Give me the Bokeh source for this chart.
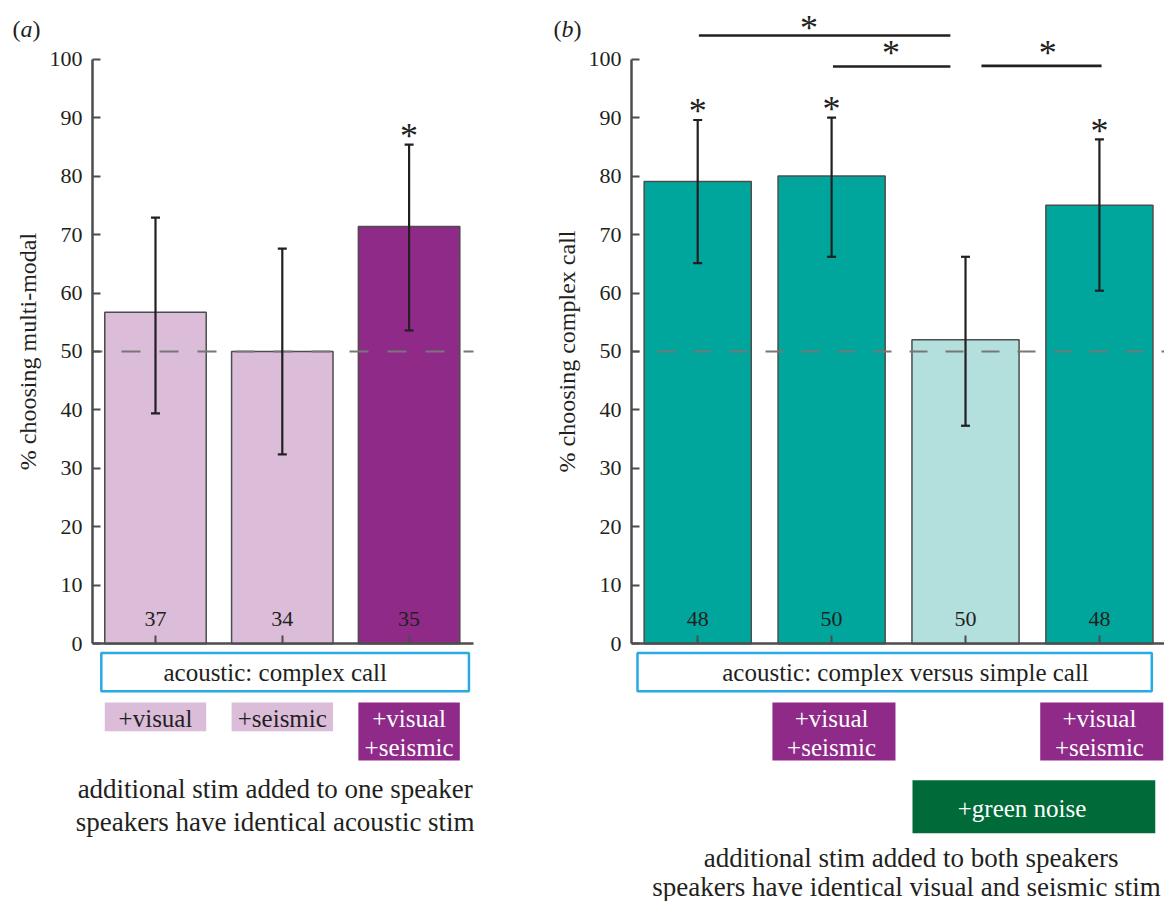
import math
from bokeh.plotting import figure
from bokeh.models import Range1d, FixedTicker, Label, Whisker, TeeHead, ColumnDataSource
from bokeh.layouts import row
from bokeh.embed import file_html
from bokeh.resources import INLINE
from bokeh.core.properties import value

# ---------------- data ----------------
a_pos = [1, 2, 3]
a_vals = [56.7, 50.0, 71.4]
a_lower = [39.4, 32.4, 53.6]
a_upper = [72.9, 67.6, 85.4]
a_n = ["37", "34", "35"]
a_sig = [False, False, True]
a_colors = ["#dbbcd9", "#dbbcd9", "#8f2a89"]
a_stim_line1 = ["+visual", "+seismic", "+visual"]
a_stim_line2 = ["", "", "+seismic"]
a_stim_colors = ["#dbbcd9", "#dbbcd9", "#8f2a89"]
a_stim_text = ["#231f20", "#231f20", "white"]

b_pos = [1, 2, 3, 4]
b_vals = [79.1, 80.0, 52.0, 75.0]
b_lower = [65.1, 66.2, 37.3, 60.4]
b_upper = [89.6, 90.0, 66.2, 86.3]
b_n = ["48", "50", "50", "48"]
b_sig = [True, True, False, True]
b_colors = ["#00a69c", "#00a69c", "#b3dfdd", "#00a69c"]
b_vs_pos = [2, 4]          # bars with +visual +seismic on both speakers
b_pairs = [(1, 3), (2, 3), (3, 4)]   # significant pairwise comparisons

y_ticks = list(range(0, 101, 10))
chance = 50

FONT = "Liberation Serif"
TXT = "#231f20"
AX = "#4d4d4d"
PURPLE = "#8f2a89"
BLUE = "#29aae2"
GREEN = "#006b38"

Y_RANGE = (-44.08, 110.04)


def make_panel(width, xr, y_axis_x, axis_end, ticks):
    p = figure(width=width, height=901, x_range=xr, y_range=Range1d(*Y_RANGE),
               output_backend="svg", toolbar_location=None,
               min_border_left=0, min_border_right=0,
               min_border_top=0, min_border_bottom=0)
    p.outline_line_color = None
    p.grid.visible = False
    p.background_fill_color = "white"
    p.border_fill_color = "white"
    ya = p.yaxis[0]
    ya.fixed_location = y_axis_x
    ya.ticker = FixedTicker(ticks=y_ticks)
    ya.bounds = (0, 100)
    ya.axis_line_color = AX
    ya.axis_line_width = 2.5
    ya.major_tick_line_color = AX
    ya.major_tick_line_width = 2
    ya.major_tick_in = 8
    ya.major_tick_out = 0
    ya.minor_tick_line_color = None
    ya.major_label_text_font = FONT
    ya.major_label_text_font_size = "22px"
    ya.major_label_text_color = TXT
    ya.major_label_standoff = 10
    xa = p.xaxis[0]
    xa.fixed_location = 0
    xa.ticker = FixedTicker(ticks=ticks)
    xa.bounds = (y_axis_x, axis_end)
    xa.axis_line_color = AX
    xa.axis_line_width = 2.5
    xa.major_tick_line_color = AX
    xa.major_tick_line_width = 2
    xa.major_tick_in = 8
    xa.major_tick_out = 0
    xa.minor_tick_line_color = None
    xa.major_label_text_alpha = 0
    xa.major_label_text_font_size = "1px"
    return p


def bars(p, pos, vals, lower, upper, colors, n, width):
    src = ColumnDataSource(dict(x=pos, top=vals, lower=lower, upper=upper,
                                color=colors, n=n))
    p.vbar(x="x", top="top", width=width, bottom=0, fill_color="color",
           line_color=AX, line_width=1.5, source=src)
    return src


def errors_and_labels(p, src, pos, upper, sig):
    p.add_layout(Whisker(base="x", upper="upper", lower="lower", source=src,
                         level="overlay",
                         line_color=TXT, line_width=2.2,
                         upper_head=TeeHead(size=9, line_color=TXT, line_width=2.2),
                         lower_head=TeeHead(size=9, line_color=TXT, line_width=2.2)))
    p.text(x="x", y=4.24, text="n", source=src, text_align="center",
           text_baseline="alphabetic", text_font=value(FONT),
           text_font_size="22px", text_color=TXT)
    sx = [x for x, s in zip(pos, sig) if s]
    sy = [u + 1.5 for u, s in zip(upper, sig) if s]
    p.text(x=sx, y=sy, text=["*"] * len(sx), text_align="center",
           text_baseline="alphabetic", text_font=value(FONT),
           text_font_size="36px", text_color=TXT)


def lab(p, x, y, text, size, color=TXT, align="center", style="normal", angle=0):
    p.add_layout(Label(x=x, y=y, text=text, text_font=FONT, text_font_size=size,
                       text_color=color, text_align=align, text_baseline="alphabetic",
                       text_font_style=style, angle=angle))


# ---------------- panel (a) ----------------
xa_range = Range1d(-0.2224, 4.0363)
AX_A = 0.5032
END_A = 3.508
pa = make_panel(540, xa_range, AX_A, END_A, a_pos)
src_a = bars(pa, a_pos, a_vals, a_lower, a_upper, a_colors, a_n, 0.8)
pa.line(x=[AX_A, END_A], y=[chance, chance], line_color="#777777",
        line_width=2, line_dash="19 19", line_dash_offset=9)
errors_and_labels(pa, src_a, a_pos, a_upper, a_sig)
lab(pa, -0.0016, 50, "% choosing multi-modal", "24px", angle=math.pi / 2)

pa.quad(left=[0.5726], right=[3.472], top=[-1.57], bottom=[-8.13],
        fill_color="white", line_color=BLUE, line_width=2.5)
lab(pa, 1.944, -4.98, "acoustic: complex call", "25px")
for x, t1, t2, fc, tc in zip(a_pos, a_stim_line1, a_stim_line2, a_stim_colors, a_stim_text):
    bottom = -19.96 if t2 else -14.95
    pa.quad(left=[x - 0.4], right=[x + 0.4], top=[-10.04], bottom=[bottom],
            fill_color=fc, line_color=None)
    lab(pa, x, -12.73, t1, "25px", tc)
    if t2:
        lab(pa, x, -17.74, t2, "25px", tc)
lab(pa, 1.944, -24.8, "additional stim added to one speaker", "27px")
lab(pa, 1.944, -30.44, "speakers have identical acoustic stim", "27px")
lab(pa, -0.1278, 105.08, "(", "24px", align="left")
lab(pa, -0.0647, 105.08, "a", "24px", align="left", style="italic")
lab(pa, 0.0300, 105.08, ")", "24px", align="left")

# ---------------- panel (b) ----------------
xb_range = Range1d(-0.174, 4.486)
AX_B = 0.5056
pb = make_panel(624, xb_range, AX_B, xb_range.end, b_pos)
src_b = bars(pb, b_pos, b_vals, b_lower, b_upper, b_colors, b_n, 0.8)
pb.line(x=[AX_B, xb_range.end], y=[chance, chance], line_color="#777777",
        line_width=2, line_dash="18 18", line_dash_offset=10)
errors_and_labels(pb, src_b, b_pos, b_upper, b_sig)
lab(pb, 0.0202, 50, "% choosing complex call", "24px", angle=math.pi / 2)

brk_x0 = [1.009, 2.01, 3.119]
brk_x1 = [2.887, 2.887, 4.016]
brk_y = [104.05, 98.75, 98.87]
brk_sx = [1.832, 2.444, 3.615]
brk_sy = [105.4, 101.1, 101.1]
pb.segment(x0=brk_x0, x1=brk_x1, y0=brk_y, y1=brk_y, line_color=TXT, line_width=2.7)
pb.text(x=brk_sx, y=brk_sy, text=["*"] * len(b_pairs), text_align="center",
        text_baseline="alphabetic", text_font=value(FONT), text_font_size="36px",
        text_color=TXT)

pb.quad(left=[0.5504], right=[4.391], top=[-1.57], bottom=[-8.13],
        fill_color="white", line_color=BLUE, line_width=2.5)
lab(pb, 2.552, -4.98, "acoustic: complex versus simple call", "25px")
for x in b_vs_pos:
    pb.quad(left=[x - 0.442], right=[x + 0.477], top=[-10.04], bottom=[-19.96],
            fill_color=PURPLE, line_color=None)
    lab(pb, x, -12.73, "+visual", "25px", "white")
    lab(pb, x, -17.74, "+seismic", "25px", "white")
pb.quad(left=[2.604], right=[4.417], top=[-23.35], bottom=[-32.4],
        fill_color=GREEN, line_color=None)
lab(pb, 3.422, -28.13, "+green noise", "25px", "white")
lab(pb, 2.594, -36.6, "additional stim added to both speakers", "27px")
lab(pb, 2.559, -41.55, "speakers have identical visual and seismic stim", "27px")
lab(pb, -0.0769, 105.08, "(", "24px", align="left")
lab(pb, -0.0172, 105.08, "b", "24px", align="left", style="italic")
lab(pb, 0.0724, 105.08, ")", "24px", align="left")

layout = row(pa, pb)
open("out.html", "w").write(file_html(layout, INLINE))
